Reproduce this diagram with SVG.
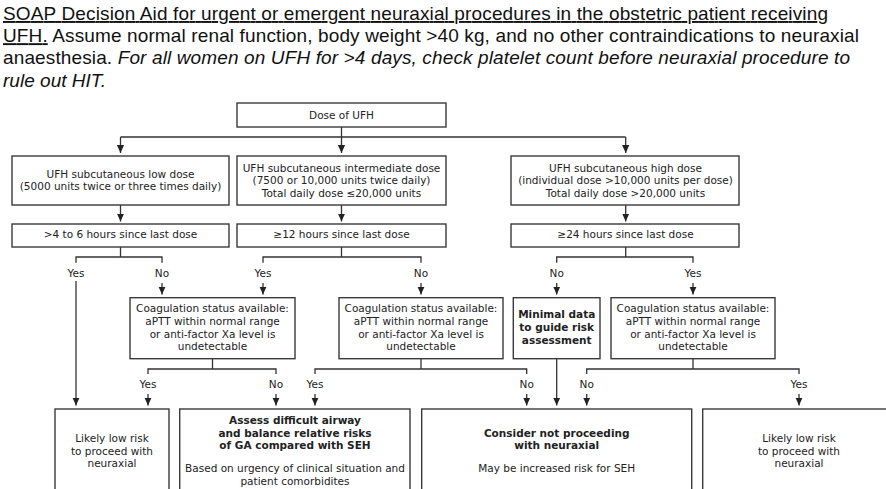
<svg xmlns="http://www.w3.org/2000/svg" width="886" height="489" viewBox="0 0 886 489">
<defs>
<marker id="ah" viewBox="0 0 8 8" refX="8" refY="4" markerWidth="8" markerHeight="8" markerUnits="userSpaceOnUse" orient="auto">
<path d="M0,0.4 L8,4 L0,7.6 z" fill="#222"/>
</marker>
<style>
.title{font-family:"Liberation Sans",Arial,sans-serif;font-size:19px;fill:#111}
.box{fill:#fff;stroke:#3a3a3a;stroke-width:1.4}
.t{font-family:"DejaVu Sans",Verdana,sans-serif;font-size:10.5px;fill:#222;text-anchor:middle}
.b{font-weight:bold;font-size:10.5px}
.ln{fill:none;stroke:#333;stroke-width:1.3}
.arr{fill:none;stroke:#333;stroke-width:1.3;marker-end:url(#ah)}
</style>
</defs>
<rect width="886" height="489" fill="#fff"/>

<g id="title">
<text class="title" x="3" y="20" textLength="825" lengthAdjust="spacing" text-decoration="underline">SOAP Decision Aid for urgent or emergent neuraxial procedures in the obstetric patient receiving</text>
<text class="title" x="3" y="42.2" textLength="856" lengthAdjust="spacing"><tspan text-decoration="underline">UFH.</tspan> Assume normal renal function, body weight &gt;40 kg, and no other contraindications to neuraxial</text>
<text class="title" x="3" y="64.4" textLength="847" lengthAdjust="spacing">anaesthesia. <tspan font-style="italic">For all women on UFH for &gt;4 days, check platelet count before neuraxial procedure to</tspan></text>
<text class="title" x="3" y="86.7" textLength="103" lengthAdjust="spacing" font-style="italic">rule out HIT.</text>
</g>

<g id="connectors">
<path class="ln" d="M341.5,127 V137 M120.5,137 H625.7"/>
<path class="arr" d="M120.5,137 V153"/>
<path class="arr" d="M341.5,137 V153"/>
<path class="arr" d="M625.7,137 V153"/>
<path class="arr" d="M120.5,205 V221.5"/>
<path class="arr" d="M341.5,205 V221.5"/>
<path class="arr" d="M625.7,205 V221.5"/>
<path class="ln" d="M120.5,247 V257 M76,262.7 V257 H162 V262.7"/>
<path class="ln" d="M341.5,247 V257 M263,262.7 V257 H421 V262.7"/>
<path class="ln" d="M625.7,247 V257 M556.7,262.7 V257 H693 V262.7"/>
<path class="arr" d="M76,281 V405.5"/>
<path class="arr" d="M162,283 V294.5"/>
<path class="arr" d="M263,283 V294.5"/>
<path class="arr" d="M421,283 V294.5"/>
<path class="arr" d="M556.7,283 V294.5"/>
<path class="arr" d="M693,283 V294.5"/>
<path class="ln" d="M212.5,359 V369 M148,374 V369 H276 V374"/>
<path class="ln" d="M421,359 V369 M315,374 V369 H526.7 V374"/>
<path class="ln" d="M693,359 V369 M586.7,374 V369 H799 V374"/>
<path class="arr" d="M556.7,359 V405.5"/>
<path class="arr" d="M148,394 V405.5"/>
<path class="arr" d="M276,394 V405.5"/>
<path class="arr" d="M315,394 V405.5"/>
<path class="arr" d="M526.7,394 V405.5"/>
<path class="arr" d="M586.7,394 V405.5"/>
<path class="arr" d="M799,394 V405.5"/>
<g id="connector-labels">
<text class="t" x="76" y="276.5">Yes</text>
<text class="t" x="162" y="276.5">No</text>
<text class="t" x="263" y="276.5">Yes</text>
<text class="t" x="421" y="276.5">No</text>
<text class="t" x="556.7" y="276.5">No</text>
<text class="t" x="693" y="276.5">Yes</text>
<text class="t" x="148" y="388">Yes</text>
<text class="t" x="276" y="388">No</text>
<text class="t" x="315" y="388">Yes</text>
<text class="t" x="526.7" y="388">No</text>
<text class="t" x="586.7" y="388">No</text>
<text class="t" x="799" y="388">Yes</text>
</g>
</g>

<g id="dose">
<rect class="box" x="237" y="103" width="209" height="24"/>
<text class="t" x="341.5" y="118.8">Dose of UFH</text>
</g>

<g id="low-dose">
<rect class="box" x="12" y="156" width="217" height="49"/>
<text class="t" x="120.5" y="177.8">UFH subcutaneous low dose</text>
<text class="t" x="120.5" y="189.8">(5000 units twice or three times daily)</text>
</g>
<g id="intermediate-dose">
<rect class="box" x="237" y="156" width="209" height="49"/>
<text class="t" x="341.5" y="171.5">UFH subcutaneous intermediate dose</text>
<text class="t" x="341.5" y="184.1">(7500 or 10,000 units twice daily)</text>
<text class="t" x="341.5" y="196.8">Total daily dose ≤20,000 units</text>
</g>
<g id="high-dose">
<rect class="box" x="511" y="156" width="228" height="49"/>
<text class="t" x="625.5" y="171.5">UFH subcutaneous high dose</text>
<text class="t" x="625.5" y="184.1">(individual dose &gt;10,000 units per dose)</text>
<text class="t" x="625.5" y="196.8">Total daily dose &gt;20,000 units</text>
</g>

<g id="time-low">
<rect class="box" x="12" y="224" width="217" height="23"/>
<text class="t" x="120.5" y="238.1">&gt;4 to 6 hours since last dose</text>
</g>
<g id="time-intermediate">
<rect class="box" x="237" y="224" width="209" height="23"/>
<text class="t" x="341.5" y="238.1">≥12 hours since last dose</text>
</g>
<g id="time-high">
<rect class="box" x="511" y="224" width="228" height="23"/>
<text class="t" x="625.5" y="238.1">≥24 hours since last dose</text>
</g>

<g id="coag-a">
<rect class="box" x="130" y="297.7" width="165" height="61"/>
<text class="t" x="212.5" y="312">Coagulation status available:</text>
<text class="t" x="212.5" y="324.8">aPTT within normal range</text>
<text class="t" x="212.5" y="337.5">or anti-factor Xa level is</text>
<text class="t" x="212.5" y="350.1">undetectable</text>
</g>
<g id="coag-b">
<rect class="box" x="339" y="297.7" width="164" height="61"/>
<text class="t" x="421" y="312">Coagulation status available:</text>
<text class="t" x="421" y="324.8">aPTT within normal range</text>
<text class="t" x="421" y="337.5">or anti-factor Xa level is</text>
<text class="t" x="421" y="350.1">undetectable</text>
</g>
<g id="minimal-data">
<rect class="box" x="513.3" y="297.7" width="86.7" height="61"/>
<text class="t b" x="556.7" y="317.8">Minimal data</text>
<text class="t b" x="556.7" y="331.3">to guide risk</text>
<text class="t b" x="556.7" y="343.8">assessment</text>
</g>
<g id="coag-c">
<rect class="box" x="611" y="297.7" width="164" height="61"/>
<text class="t" x="693" y="312">Coagulation status available:</text>
<text class="t" x="693" y="324.8">aPTT within normal range</text>
<text class="t" x="693" y="337.5">or anti-factor Xa level is</text>
<text class="t" x="693" y="350.1">undetectable</text>
</g>

<g id="low-risk-left">
<rect class="box" x="55" y="409" width="114" height="92"/>
<text class="t" x="112" y="442">Likely low risk</text>
<text class="t" x="112" y="454.7">to proceed with</text>
<text class="t" x="112" y="467.1">neuraxial</text>
</g>
<g id="assess-airway">
<rect class="box" x="179.7" y="409" width="230.3" height="92"/>
<text class="t b" x="295" y="423.8">Assess difficult airway</text>
<text class="t b" x="295" y="436.5">and balance relative risks</text>
<text class="t b" x="295" y="449.1">of GA compared with SEH</text>
<text class="t" x="295" y="471.5">Based on urgency of clinical situation and</text>
<text class="t" x="295" y="484.5">patient comorbidites</text>
</g>
<g id="consider-not">
<rect class="box" x="421.7" y="409" width="270" height="92"/>
<text class="t b" x="556.7" y="436.5">Consider not proceeding</text>
<text class="t b" x="556.7" y="448.9">with neuraxial</text>
<text class="t" x="556.7" y="471.5">May be increased risk for SEH</text>
</g>
<g id="low-risk-right">
<rect class="box" x="702.7" y="409" width="200" height="92"/>
<text class="t" x="799" y="442">Likely low risk</text>
<text class="t" x="799" y="454.7">to proceed with</text>
<text class="t" x="799" y="467.1">neuraxial</text>
</g>
</svg>
